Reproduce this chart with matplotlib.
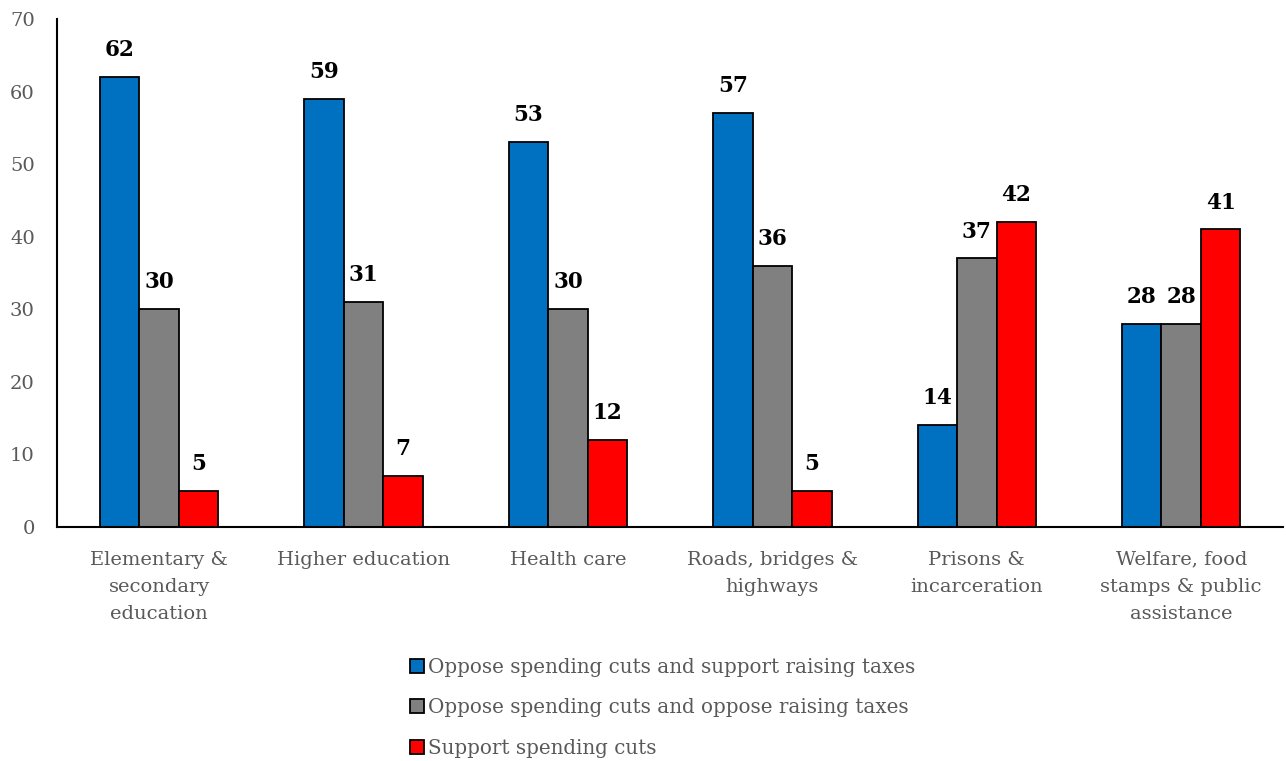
import numpy as np
import matplotlib.pyplot as plt

plt.rcParams['font.family'] = ['DejaVu Serif']

categories = ['Elementary &\nsecondary\neducation', 'Higher education', 'Health care',
              'Roads, bridges &\nhighways', 'Prisons &\nincarceration',
              'Welfare, food\nstamps & public\nassistance']
oppose_support_tax = [62, 59, 53, 57, 14, 28]
oppose_oppose_tax = [30, 31, 30, 36, 37, 28]
support_cuts = [5, 7, 12, 5, 42, 41]
series_names = ['Oppose spending cuts and support raising taxes',
                'Oppose spending cuts and oppose raising taxes',
                'Support spending cuts']
colors = ['#0070C0', '#808080', '#FF0000']

fig = plt.figure(figsize=(12.86, 7.61), dpi=100)
ax = fig.add_axes([0.0443, 0.3075, 0.9537, 0.6675])

x = np.arange(len(categories))
w = 0.193
for i, (vals, name, c) in enumerate(zip([oppose_support_tax, oppose_oppose_tax, support_cuts],
                                        series_names, colors)):
    pos = x + (i - 1) * w
    ax.bar(pos, vals, w, color=c, edgecolor='black', linewidth=1.3, label=name)
    for p, v in zip(pos, vals):
        ax.text(p, v + 2.2, str(v), ha='center', va='bottom', fontsize=15.5,
                fontweight='bold', color='black')

ax.set_xlim(-0.5, len(categories) - 0.5)
ax.set_ylim(0, 70)
ax.set_yticks(range(0, 71, 10))
ax.set_xticks(x)
ax.set_xticklabels(categories, fontsize=14, color='#595959', linespacing=1.65)
ax.tick_params(axis='y', labelsize=14, labelcolor='#595959', length=0, pad=16)
ax.tick_params(axis='x', length=0, pad=17)
for s in ['top', 'right']:
    ax.spines[s].set_visible(False)
ax.spines['left'].set_linewidth(1.5)
ax.spines['bottom'].set_linewidth(1.5)

leg = fig.legend(loc='upper left', bbox_to_anchor=(0.305, 0.159), frameon=False,
                 fontsize=14.3, handlelength=0.7, handleheight=0.7, handletextpad=0.2,
                 labelspacing=1.08, ncol=1)
for t in leg.get_texts():
    t.set_color('#595959')

fig.savefig('out.png', dpi=100)
